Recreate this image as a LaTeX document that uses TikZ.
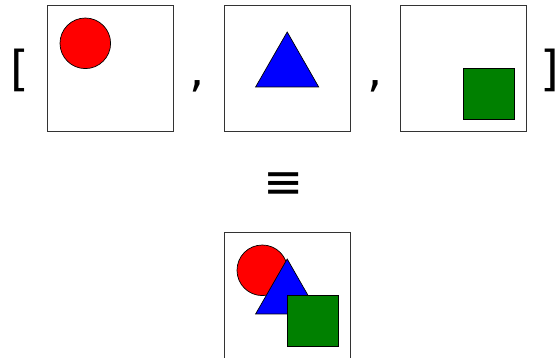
\documentclass[tikz,border=0pt]{standalone}
\usepackage{fontspec}
\setmainfont{DejaVu Sans}
\tikzset{
outline/.style={draw=black,line width=0.7pt},
redcircle/.pic={\draw[outline,fill=red] (38.3,38.3) circle (25.3);},
bluetriangle/.pic={\draw[outline,fill=blue] (63.2,27) -- (94.7,82) -- (31.6,82) -- cycle;},
greensquare/.pic={\draw[outline,fill=green!50!black] (63.3,63.3) rectangle (114,114);}
}
\begin{document}
\begin{tikzpicture}[
x=1pt,y=-1pt,
frame/.style={draw=black!80,line width=0.8pt,minimum size=126pt,inner sep=0pt,anchor=north west},
sym/.style={inner sep=0pt,font=\fontsize{48}{48}\selectfont}
]
\useasboundingbox (0,0) rectangle (558,358);
% the list of three images
\node[sym](open) at (19.5,70){[};
\node[frame](img1) at (47,5){};
\pic at (img1.north west) {redcircle};
\node[sym](comma1) at (197,86.3){,};
\node[frame](img2) at (224,5){};
\pic at (img2.north west) {bluetriangle};
\node[sym](comma2) at (374.7,86.3){,};
\node[frame](img3) at (400,5){};
\pic at (img3.north west) {greensquare};
\node[sym](close) at (549.8,70){]};
% equivalence
\node[sym](equiv) at (284,185.5){≡};
% the composite image
\node[frame,minimum height=128pt](comp) at (224,232){};
\pic at (comp.north west) {redcircle};
\pic at (comp.north west) {bluetriangle};
\pic at (comp.north west) {greensquare};
\end{tikzpicture}
\end{document}
